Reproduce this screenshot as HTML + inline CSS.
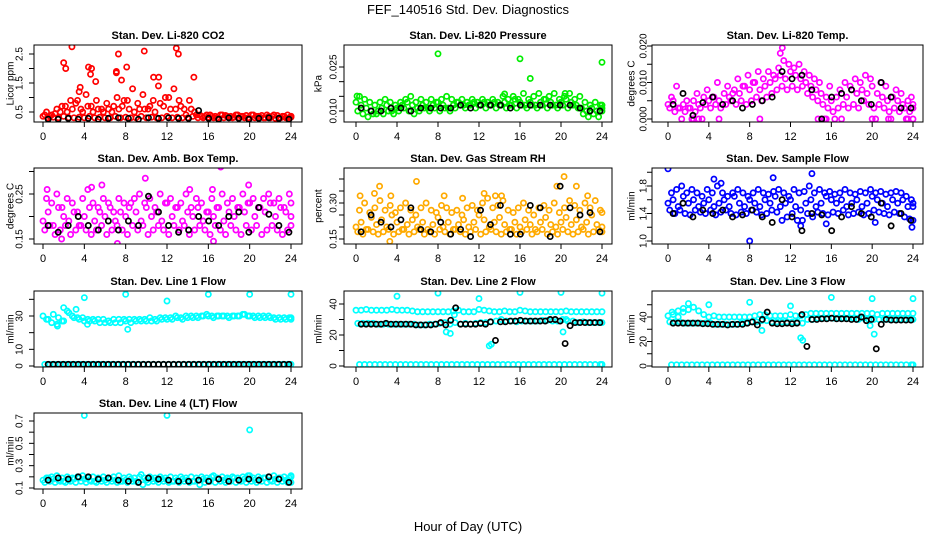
<!DOCTYPE html>
<html><head><meta charset="utf-8"><style>
html,body{margin:0;padding:0;background:#fff}
svg{display:block;font-family:"Liberation Sans",Arial,sans-serif}
</style></head><body>
<svg id="chart" width="936" height="540" viewBox="0 0 936 540" xmlns="http://www.w3.org/2000/svg">
<rect width="936" height="540" fill="#fff"/>
<text x="468" y="14" text-anchor="middle" font-size="13">FEF_140516  Std. Dev. Diagnostics</text>
<text x="468" y="531" text-anchor="middle" font-size="13">Hour of Day (UTC)</text>
</svg>
<script>
const hourTicks=[0,4,8,12,16,20,24];
const co2A=[0.35,0.3,0.32,0.3,0.35,0.3,0.3,0.32,0.3,0.35,0.3,0.32,0.3,0.3,0.35,0.3,0.32,0.3,0.3,0.35,0.3,0.32,0.3,0.3,0.35,0.3,0.32,0.3,0.3,0.35,0.3,0.3,0.32,0.3,0.28,0.3,0.3,0.32,0.3,0.3,0.28,0.3,0.32,0.3,0.3,0.28,0.3,0.3,0.32];
const co2B=[0.4,0.35,0.45,0.5,0.7,0.9,0.8,0.6,1.1,0.7,0.9,0.6,0.8,0.5,1.0,0.7,0.9,1.3,0.8,1.1,0.6,0.9,1.4,0.7,1.0,1.3,0.9,0.6,0.9,0.5,0.4,0.35,0.4,0.35,0.4,0.38,0.35,0.4,0.35,0.38,0.4,0.35,0.38,0.4,0.35,0.38,0.35,0.4,0.35];
const co2C=[0.5,0.4,0.6,0.7,0.5,0.6,0.9,0.5,0.7,0.5,0.6,0.5,0.6,0.7,0.6,0.9,0.6,0.5,0.6,0.6,0.7,0.5,0.8,1.0,0.6,0.6,0.7,0.4,0.6,0.4,0.35,0.4,0.35,0.3,0.4,0.35,0.3,0.4,0.35,0.3,0.4,0.35,0.3,0.35,0.4,0.3,0.35,0.3,0.35];
const co2OutH=[2,2.2,2.8,4.6,4.7,4.4,5.1,7.1,7.1,7.3,7.6,8.1,9.8,10.7,11.2,12.9,13.1,14.6,3.6,3.5];
const co2OutV=[2.2,2.0,2.75,1.8,2.0,2.05,1.55,1.85,1.9,2.5,1.6,2.05,2.6,1.7,1.7,2.7,2.5,1.7,1.35,1.2];
const co2K=[0.25,0.25,0.28,0.25,0.28,0.25,0.28,0.3,0.28,0.25,0.3,0.28,0.3,0.28,0.28,0.55,0.28,0.25,0.3,0.28,0.25,0.28,0.3,0.28,0.25];

const presA=[0.013,0.012,0.011,0.01,0.009,0.011,0.012,0.01,0.011,0.012,0.013,0.012,0.011,0.012,0.011,0.012,0.013,0.012,0.011,0.012,0.013,0.012,0.012,0.013,0.012,0.013,0.012,0.013,0.012,0.013,0.012,0.014,0.013,0.012,0.013,0.012,0.013,0.014,0.013,0.012,0.013,0.014,0.013,0.012,0.011,0.01,0.011,0.01,0.011];
const presB=[0.01,0.009,0.008,0.009,0.01,0.009,0.01,0.009,0.01,0.011,0.01,0.009,0.01,0.011,0.01,0.011,0.01,0.011,0.01,0.011,0.012,0.011,0.012,0.011,0.012,0.011,0.012,0.011,0.012,0.011,0.012,0.011,0.012,0.011,0.012,0.011,0.012,0.011,0.012,0.011,0.012,0.011,0.012,0.011,0.009,0.008,0.009,0.008,0.01];
const presC=[0.015,0.014,0.013,0.012,0.013,0.014,0.013,0.012,0.013,0.014,0.015,0.013,0.014,0.013,0.014,0.013,0.014,0.015,0.014,0.013,0.014,0.013,0.014,0.013,0.014,0.013,0.014,0.013,0.015,0.014,0.015,0.014,0.016,0.014,0.015,0.016,0.014,0.015,0.016,0.014,0.015,0.016,0.014,0.015,0.013,0.012,0.013,0.012,0.012];
const presOutH=[8,16,24,17,14.5,20.4,0.1];
const presOutV=[0.0295,0.0278,0.0266,0.0211,0.0158,0.016,0.0151];
const presK=[0.011,0.01,0.01,0.011,0.011,0.01,0.011,0.011,0.011,0.011,0.012,0.011,0.012,0.012,0.012,0.011,0.012,0.012,0.012,0.012,0.012,0.012,0.011,0.01,0.01];

const ltA=[0.004,0.005,0.003,0.004,0.003,0.005,0.004,0.006,0.005,0.006,0.005,0.007,0.006,0.008,0.007,0.009,0.008,0.01,0.008,0.009,0.01,0.011,0.012,0.011,0.013,0.012,0.011,0.01,0.009,0.008,0.007,0.006,0.005,0.006,0.007,0.006,0.008,0.007,0.008,0.007,0.009,0.007,0.006,0.005,0.006,0.005,0.004,0.005,0.004];
const ltB=[0.003,0.002,0.003,0.002,0.003,0.002,0.003,0.004,0.003,0.004,0.003,0.004,0.005,0.004,0.005,0.004,0.005,0.006,0.005,0.006,0.007,0.008,0.009,0.008,0.009,0.008,0.009,0.007,0.006,0.005,0.004,0.003,0.002,0.003,0.004,0.003,0.004,0.003,0.005,0.004,0.003,0.004,0.003,0.002,0.003,0.002,0.003,0.002,0.003];
const ltC=[0.006,0.009,0,0.005,0,0.007,0,0.008,0.006,0.01,0.004,0.009,0.007,0.011,0.009,0.012,0.01,0.013,0.011,0.013,0.012,0.014,0.016,0.015,0.014,0.015,0.013,0.012,0.011,0.01,0,0.009,0,0.008,0.01,0.009,0.011,0.01,0.012,0.011,0,0.01,0.009,0,0.008,0.007,0,0.006,0];
const ltOutH=[11.2,11,2.5,3,5,9,14.7,15.5,17,20,21.6,23.5];
const ltOutV=[0.0195,0.018,0,0,0,0,0,0,0,0,0,0];
const ltK=[0.004,0.007,0.001,0.0045,0.006,0.004,0.005,0.003,0.004,0.005,0.006,0.013,0.011,0.012,0.008,0,0.006,0.007,0.008,0.005,0.004,0.01,0.006,0.003,0.003];

const abA=[0.19,0.21,0.18,0.22,0.2,0.19,0.21,0.18,0.2,0.22,0.19,0.21,0.2,0.22,0.19,0.21,0.2,0.23,0.21,0.19,0.22,0.2,0.21,0.19,0.23,0.2,0.22,0.19,0.21,0.2,0.22,0.19,0.21,0.2,0.22,0.19,0.21,0.2,0.22,0.21,0.23,0.2,0.22,0.21,0.23,0.2,0.22,0.21,0.2];
const abB=[0.17,0.18,0.16,0.17,0.18,0.16,0.17,0.18,0.17,0.16,0.17,0.18,0.16,0.17,0.18,0.17,0.16,0.18,0.17,0.18,0.16,0.17,0.18,0.17,0.16,0.18,0.17,0.18,0.16,0.17,0.18,0.17,0.16,0.18,0.17,0.16,0.18,0.17,0.16,0.18,0.17,0.18,0.16,0.17,0.18,0.17,0.16,0.17,0.18];
const abC=[0.24,0.23,0.25,0.22,0.24,0.23,0.21,0.24,0.26,0.23,0.22,0.24,0.23,0.21,0.24,0.23,0.22,0.24,0.25,0.23,0.24,0.22,0.25,0.23,0.24,0.22,0.23,0.25,0.22,0.24,0.23,0.21,0.24,0.22,0.25,0.23,0.24,0.22,0.25,0.23,0.24,0.22,0.24,0.25,0.23,0.24,0.22,0.25,0.23];
const abOutH=[0.4,1.8,4.7,5.7,7.2,9.9,14.2,16.4,17.2,19.9,16.5];
const abOutV=[0.26,0.15,0.265,0.27,0.14,0.285,0.26,0.26,0.31,0.27,0.145];
const abK=[0.18,0.165,0.18,0.2,0.18,0.17,0.19,0.17,0.19,0.18,0.245,0.21,0.18,0.165,0.17,0.2,0.19,0.18,0.2,0.21,0.165,0.22,0.205,0.18,0.165];

const rhA=[0.2,0.22,0.19,0.24,0.21,0.23,0.2,0.25,0.22,0.19,0.21,0.23,0.2,0.22,0.19,0.21,0.24,0.2,0.22,0.19,0.21,0.23,0.2,0.22,0.25,0.23,0.2,0.22,0.24,0.21,0.19,0.22,0.2,0.23,0.21,0.19,0.22,0.24,0.21,0.2,0.22,0.24,0.21,0.23,0.2,0.22,0.25,0.21,0.2];
const rhB=[0.18,0.17,0.19,0.18,0.17,0.18,0.19,0.17,0.18,0.19,0.17,0.18,0.19,0.17,0.18,0.17,0.19,0.18,0.17,0.19,0.18,0.17,0.18,0.19,0.17,0.18,0.19,0.18,0.17,0.18,0.19,0.17,0.18,0.19,0.17,0.18,0.19,0.17,0.18,0.17,0.19,0.18,0.17,0.18,0.19,0.17,0.18,0.19,0.18];
const rhC=[0.27,0.3,0.26,0.28,0.31,0.27,0.29,0.26,0.28,0.3,0.27,0.25,0.28,0.3,0.27,0.26,0.29,0.28,0.26,0.27,0.25,0.28,0.29,0.27,0.3,0.32,0.28,0.29,0.31,0.27,0.26,0.28,0.3,0.27,0.25,0.28,0.29,0.27,0.3,0.26,0.28,0.31,0.29,0.27,0.3,0.28,0.31,0.27,0.26];
const rhOutH=[0.4,1.8,2.3,3.3,3.4,5.9,8.6,10.4,12.5,13.6,14.2,19.6,20.3,21.5,22.6];
const rhOutV=[0.33,0.34,0.37,0.14,0.33,0.39,0.33,0.32,0.34,0.33,0.33,0.37,0.41,0.37,0.33];
const rhK=[0.18,0.25,0.22,0.2,0.23,0.28,0.19,0.18,0.22,0.17,0.19,0.16,0.27,0.21,0.29,0.17,0.17,0.29,0.28,0.16,0.37,0.28,0.25,0.26,0.18];

const sfA=[1.55,1.6,1.5,1.65,1.55,1.6,1.5,1.55,1.6,1.5,1.55,1.6,1.5,1.65,1.55,1.5,1.6,1.55,1.5,1.6,1.55,1.65,1.5,1.55,1.6,1.5,1.45,1.55,1.6,1.5,1.55,1.65,1.6,1.55,1.6,1.5,1.55,1.6,1.5,1.55,1.65,1.6,1.55,1.5,1.6,1.55,1.6,1.5,1.5];
const sfB=[1.45,1.4,1.45,1.4,1.38,1.45,1.42,1.4,1.45,1.38,1.42,1.45,1.4,1.38,1.42,1.4,1.45,1.42,1.38,1.4,1.45,1.42,1.3,1.35,1.4,1.3,1.3,1.4,1.35,1.42,1.4,1.38,1.42,1.4,1.45,1.38,1.4,1.42,1.38,1.4,1.45,1.42,1.4,1.38,1.42,1.4,1.35,1.32,1.3];
const sfC=[1.7,1.75,1.8,1.7,1.75,1.7,1.65,1.75,1.7,1.8,1.7,1.65,1.7,1.75,1.7,1.65,1.7,1.75,1.7,1.68,1.72,1.75,1.7,1.65,1.75,1.7,1.72,1.8,1.7,1.75,1.7,1.72,1.68,1.7,1.75,1.7,1.68,1.72,1.7,1.75,1.7,1.72,1.68,1.7,1.72,1.7,1.65,1.6,1.55];
const sfOutH=[0,4.5,5.2,10.3,14.1,8,13,20.3,15.5,23.9];
const sfOutV=[2.05,1.9,1.84,1.92,1.98,1.0,1.22,1.27,1.25,1.2];
const sfK=[1.4,1.55,1.35,1.45,1.4,1.45,1.35,1.38,1.45,1.35,1.27,1.6,1.35,1.15,1.4,1.38,1.15,1.35,1.5,1.4,1.35,1.55,1.22,1.4,1.3];

const l1A=[30,28,31,29,27,32,29,28,27,27,27,26,26,26,26,26,27,26,27,27,27,27,27,28,28,28,29,28,29,29,29,30,30,29,30,30,29,30,30,31,30,29,29,29,29,28,28,28,28];
const l1B=[1,1,1,1,1,1,1,1,1,1,1,1,1,1,1,1,1,1,1,1,1,1,1,1,1,1,1,1,1,1,1,1,1,1,1,1,1,1,1,1,1,1,1,1,1,1,1,1,1];
const l1C=[28,26,25,27,33,30,29,29,28,28,28,28,27,28,28,28,28,28,28,28,29,28,29,29,29,30,29,30,30,30,30,31,30,30,30,30,30,30,31,30,30,30,30,30,29,29,29,29,29];
const l1OutH=[4,8,12,16,20,24,2,3.2,8.2,1.4,4.3];
const l1OutV=[41,43,39,43,43,43,35,34,22,24,25];
const l1K=[1,1,1,1,1,1,1,1,1,1,1,1,1,1,1,1,1,1,1,1,1,1,1,1,1,1,1,1,1,1,1,1,1,1,1,1,1,1,1,1,1,1,1,1,1,1,1,1,1];

const l2A=[36,36,36.5,36,36,36,36,36.5,36,36,36,35.5,35,35,35,35,35,35,35,35.5,36,35,35,35,36.5,36,35.5,35,35,35.5,35,35,36,35.5,35,35,35,35,35,35,35,35.5,35,35,35,35,35,35,35];
const l2B=[27.5,27.5,27.5,27.5,27,27,27,27,27,27,27,27,26.5,26.5,27,27,27.5,28,27,28,27,27.5,27,27.5,28,28,28.5,29,30,29,29,28.5,29,29,29,29,29.5,29.5,29,29,30,29,29,28,28.5,28,28,28,28];
const l2C=[1,1,1,1,1,1,1,1,1,1,1,1,1,1,1,1,1,1,1,1,1,1,1,1,1,1,1,1,1,1,1,1,1,1,1,1,1,1,1,1,1,1,1,1,1,1,1,1,1];
const l2OutH=[4,8,12,16,20,24,8.8,9.2,13,13.2,20.2,9.6,20.5];
const l2OutV=[45,47,43.5,47.5,47.5,47,22,21,13,14,22,33,30];
const l2K=[27,27,27,27,27,27.5,27,27,27,27,27,26.5,26.5,26.5,26.5,27,28,26.5,29.5,37.5,27,27,27,27,27.5,27,28.5,16.5,28.5,28.5,29,29,29.5,29,29,29,29,29,30,30,29,14.5,26,28,28,28,28,28,28];

const l3A=[41,42,40,44,46,48,45,42,40,41,40,40,40,40,40,40,40,41,42,42,41,41,41,41,42,41,41,42,43,43,43,43,43,43,43,43,43,43,43,43,43,42,43,43,43,43,43,43,43];
const l3B=[36,36,36,35,35,35,35,35,35,34,34,34,34,34,35,35,36,36,37,37,36,36,36,36,36,36,35,38,38,39,39,39,39,39,39,39,39,38,39,38,38,38,38,38,38,38,38,38,38];
const l3C=[1,1,1,1,1,1,1,1,1,1,1,1,1,1,1,1,1,1,1,1,1,1,1,1,1,1,1,1,1,1,1,1,1,1,1,1,1,1,1,1,1,1,1,1,1,1,1,1,1];
const l3OutH=[1,1.5,2,4,8,12,16,20,24,13,13.2,9.2,20.2,19.8,0.4];
const l3OutV=[45,47,51,50,52,49,56,55,55,23,21,29,26,33,44];
const l3K=[35,35,35,35,35,35,34.5,34.5,34,34,34,33.5,34,34,34,35,36,33.5,38,44,35,34.5,34.5,35,34.5,35,42,16,38,38,38.5,38.5,39,38.5,38.5,38.5,38,38,40,37,38,14,34,38,37.5,37.5,37.5,37.5,37.5];

const l4A=[0.17,0.19,0.18,0.17,0.16,0.17,0.18,0.19,0.18,0.17,0.16,0.18,0.17,0.18,0.17,0.16,0.17,0.18,0.16,0.22,0.17,0.18,0.17,0.18,0.17,0.16,0.17,0.18,0.17,0.16,0.17,0.18,0.17,0.21,0.18,0.17,0.18,0.19,0.17,0.18,0.21,0.17,0.18,0.19,0.17,0.18,0.19,0.17,0.21];
const l4B=[0.15,0.16,0.15,0.16,0.15,0.16,0.15,0.16,0.15,0.16,0.15,0.16,0.15,0.16,0.15,0.16,0.15,0.16,0.15,0.13,0.15,0.16,0.15,0.16,0.15,0.16,0.15,0.16,0.15,0.16,0.13,0.15,0.16,0.15,0.16,0.15,0.16,0.15,0.16,0.15,0.16,0.15,0.16,0.15,0.16,0.15,0.16,0.15,0.15];
const l4C=[0.19,0.2,0.21,0.19,0.2,0.19,0.2,0.21,0.19,0.2,0.19,0.2,0.19,0.2,0.21,0.19,0.2,0.19,0.2,0.19,0.2,0.19,0.2,0.19,0.2,0.19,0.2,0.19,0.2,0.19,0.2,0.19,0.2,0.19,0.2,0.19,0.2,0.19,0.2,0.21,0.19,0.2,0.19,0.2,0.21,0.19,0.2,0.19,0.2];
const l4OutH=[4,12,20];
const l4OutV=[0.75,0.75,0.62];
const l4K=[0.17,0.19,0.18,0.2,0.2,0.18,0.19,0.17,0.16,0.15,0.19,0.18,0.17,0.16,0.16,0.17,0.16,0.18,0.16,0.17,0.18,0.17,0.2,0.18,0.15];

const p1Ticks=[0.5,1.0,1.5,2.0,2.5], p1Labels=["0.5","","1.5","","2.5"];
const p2Ticks=[0.010,0.015,0.020,0.025], p2Labels=["0.010","","","0.025"];
const p3Ticks=[0,0.005,0.010,0.015,0.020], p3Labels=["0.000","","0.010","","0.020"];
const p4Ticks=[0.15,0.20,0.25,0.30], p4Labels=["0.15","","0.25",""];
const p5Ticks=[0.15,0.20,0.25,0.30,0.35,0.40], p5Labels=["0.15","","","0.30","",""];
const p6Ticks=[1.0,1.2,1.4,1.6,1.8,2.0], p6Labels=["1.0","","1.4","","1.8",""];
const p7Ticks=[0,10,20,30,40], p7Labels=["0","10","","30",""];
const p8Ticks=[0,10,20,30,40], p8Labels=["0","","20","","40"];
const p9Ticks=[0,10,20,30,40,50], p9Labels=["0","","20","","40",""];
const p10Ticks=[0.1,0.2,0.3,0.4,0.5,0.6,0.7], p10Labels=["0.1","","0.3","","0.5","","0.7"];

const cols=[{bl:34,br:302,h0:43,h24:291,yl:11,lo:14},{bl:344,br:612,h0:356,h24:602,yl:319,lo:10},{bl:652,br:923,h0:668,h24:913,yl:632,lo:8}];
const rows=[{bt:45,bb:122},{bt:168,bb:244},{bt:291,bb:367},{bt:413,bb:489}];
const panels=[
 {name:'co2',title:'Stan. Dev. Li-820 CO2',ylab:'Licor ppm',c:0,r:0,v1:0.5,p1:112,v2:2.5,p2:54,color:'#ff0000',s:[co2A,co2B,co2C],oh:co2OutH,ov:co2OutV,k:co2K,t:p1Ticks,tl:p1Labels},
 {name:'pressure',title:'Stan. Dev. Li-820 Pressure',ylab:'kPa',c:1,r:0,v1:0.010,p1:111,v2:0.025,p2:67,color:'#00ee00',s:[presA,presB,presC],oh:presOutH,ov:presOutV,k:presK,t:p2Ticks,tl:p2Labels},
 {name:'licor-temp',title:'Stan. Dev. Li-820 Temp.',ylab:'degrees C',c:2,r:0,v1:0,p1:119,v2:0.02,p2:46,color:'#ff00ff',s:[ltA,ltB,ltC],oh:ltOutH,ov:ltOutV,k:ltK,t:p3Ticks,tl:p3Labels},
 {name:'amb-box-temp',title:'Stan. Dev. Amb. Box Temp.',ylab:'degrees C',c:0,r:1,v1:0.15,p1:239,v2:0.25,p2:194,color:'#ff00ff',s:[abA,abB,abC],oh:abOutH,ov:abOutV,k:abK,t:p4Ticks,tl:p4Labels},
 {name:'gas-rh',title:'Stan. Dev. Gas Stream RH',ylab:'percent',c:1,r:1,v1:0.15,p1:239,v2:0.30,p2:203,color:'#ffaa00',s:[rhA,rhB,rhC],oh:rhOutH,ov:rhOutV,k:rhK,t:p5Ticks,tl:p5Labels},
 {name:'sample-flow',title:'Stan. Dev. Sample Flow',ylab:'ml/min',c:2,r:1,v1:1.0,p1:241,v2:1.8,p2:186,color:'#0000ff',s:[sfA,sfB,sfC],oh:sfOutH,ov:sfOutV,k:sfK,t:p6Ticks,tl:p6Labels},
 {name:'line1-flow',title:'Stan. Dev. Line 1 Flow',ylab:'ml/min',c:0,r:2,v1:0,p1:366,v2:30,p2:316,color:'#00ffff',s:[l1A,l1B,l1C],oh:l1OutH,ov:l1OutV,k:l1K,t:p7Ticks,tl:p7Labels},
 {name:'line2-flow',title:'Stan. Dev. Line 2 Flow',ylab:'ml/min',c:1,r:2,v1:0,p1:366,v2:40,p2:304,color:'#00ffff',s:[l2A,l2B,l2C],oh:l2OutH,ov:l2OutV,k:l2K,t:p8Ticks,tl:p8Labels},
 {name:'line3-flow',title:'Stan. Dev. Line 3 Flow',ylab:'ml/min',c:2,r:2,v1:0,p1:366,v2:40,p2:317,color:'#00ffff',s:[l3A,l3B,l3C],oh:l3OutH,ov:l3OutV,k:l3K,t:p9Ticks,tl:p9Labels},
 {name:'line4-flow',title:'Stan. Dev. Line 4 (LT) Flow',ylab:'ml/min',c:0,r:3,v1:0.1,p1:488,v2:0.7,p2:421,color:'#00ffff',s:[l4A,l4B,l4C],oh:l4OutH,ov:l4OutV,k:l4K,t:p10Ticks,tl:p10Labels}
];
const NS='http://www.w3.org/2000/svg';
const svg=document.getElementById('chart');
function mk(tag,attrs,parent){const e=document.createElementNS(NS,tag);for(const a in attrs)e.setAttribute(a,attrs[a]);parent.appendChild(e);return e;}
panels.forEach(p=>{
  const C=cols[p.c],R=rows[p.r];
  const xs=h=>C.h0+h*(C.h24-C.h0)/24;
  const ys=v=>p.p1+(v-p.v1)*(p.p2-p.p1)/(p.v2-p.v1);
  const g=mk('g',{},svg);
  
  
  const clip=mk('clipPath',{id:'clip-'+p.name},g);
  mk('rect',{x:C.bl,y:R.bt,width:C.br-C.bl,height:R.bb-R.bt},clip);
  const t=mk('text',{x:(C.bl+C.br)/2,y:R.bt-6,'text-anchor':'middle','font-size':11,'font-weight':'bold'},g);
  t.textContent=p.title;
  
  
  const yl=mk('text',{x:C.yl,y:(R.bt+R.bb)/2,'text-anchor':'middle','font-size':10,transform:`rotate(-90 ${C.yl} ${(R.bt+R.bb)/2})`,'dominant-baseline':'central'},g);
  yl.textContent=p.ylab;
  
  
  p.t.forEach((v,i)=>{
    const y=ys(v);
    const tk=mk('line',{x1:C.bl-5,x2:C.bl,y1:y,y2:y,stroke:'#000','stroke-width':1},g);
    
    
    if(p.tl[i]){
      const lx=C.bl-C.lo;
      const lb=mk('text',{x:lx,y:y,'text-anchor':'middle','font-size':10,'dominant-baseline':'central',transform:`rotate(-90 ${lx} ${y})`},g);
      lb.textContent=p.tl[i];
      
      
    }
  });
  hourTicks.forEach(h=>{
    const x=xs(h);
    const tk=mk('line',{x1:x,x2:x,y1:R.bb,y2:R.bb+5,stroke:'#000','stroke-width':1},g);
    
    
    const lb=mk('text',{x:x,y:R.bb+18,'text-anchor':'middle','font-size':11},g);
    lb.textContent=String(h);
    
    
  });
  const pts=mk('g',{'clip-path':`url(#clip-${p.name})`,fill:'none','stroke-width':1.7},g);
  
  
  const dot=(h,v,col)=>{
    const c=mk('circle',{cx:xs(h),cy:ys(v),r:2.6,stroke:col},pts);
    
    
  };
  p.s.forEach((arr,j)=>arr.forEach((v,i)=>dot(Math.min(24,i*24/(arr.length-1)+j*0.17),v,p.color)));
  p.oh.forEach((h,i)=>dot(h,p.ov[i],p.color));
  p.k.forEach((v,i)=>dot(0.5+i*23.3/(p.k.length-1),v,'#000'));
  const box=mk('rect',{x:C.bl,y:R.bt,width:C.br-C.bl,height:R.bb-R.bt,fill:'none',stroke:'#000','stroke-width':1},g);
  
  
});
</script>
</body></html>
